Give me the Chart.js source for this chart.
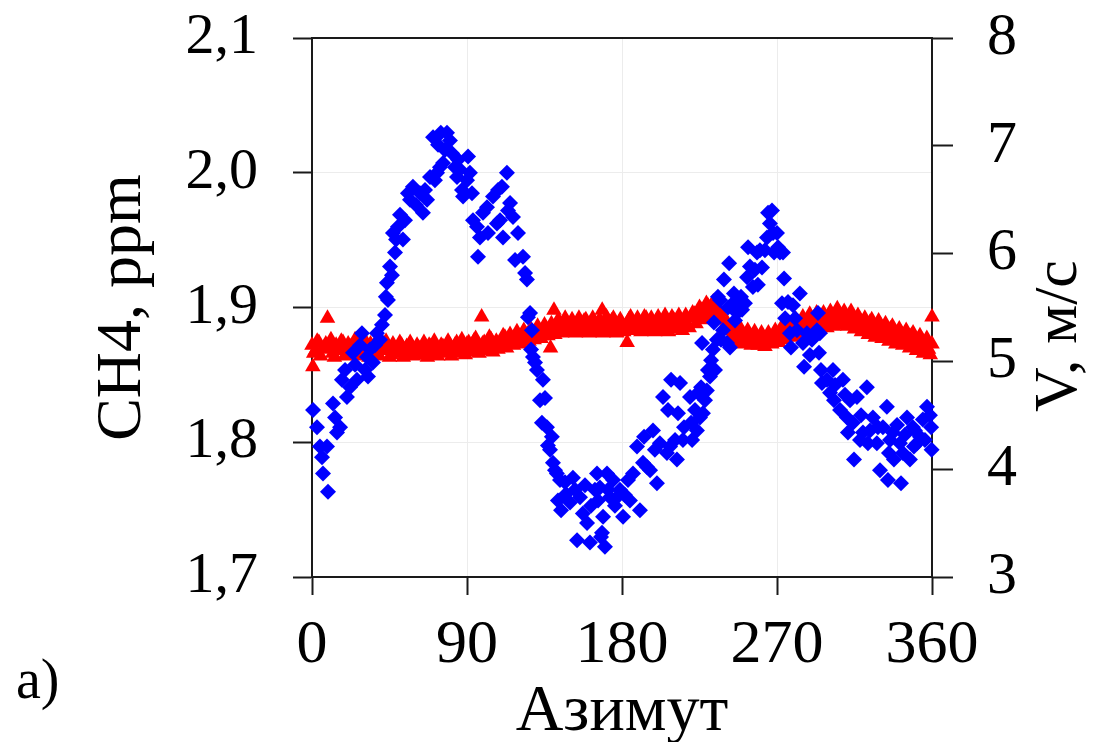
<!DOCTYPE html>
<html><head><meta charset="utf-8">
<script src="https://cdn.jsdelivr.net/npm/chart.js@4.4.1/dist/chart.umd.min.js"></script>
<style>html,body{margin:0;padding:0;background:#fff;}canvas{display:block;}</style>
</head><body>
<canvas id="c" width="1094" height="742"></canvas>
<script>
// ---- tick labels / axis settings ----
const xTicks = [0, 90, 180, 270, 360];
const leftTicks = [1.7, 1.8, 1.9, 2.0, 2.1];
const rightTicks = [3, 4, 5, 6, 7, 8];
const xTitle = 'Азимут';
const leftTitle = 'CH4, ppm';
const rightTitle = 'V, м/с';
const panelLabel = 'a)';

// ---- blue series: wind speed V (m/s) vs azimuth ----
const blueAz = [
0.6,2.9,4.6,5.8,6.4,8.7,9.3,12.2,13.4,14.5,
16.3,17.4,19.2,20.3,22.1,23.8,25.0,26.1,27.9,29.0,
30.8,31.9,32.5,33.7,35.4,36.6,37.7,39.5,40.6,42.4,
42.9,43.5,44.1,45.3,46.4,47.0,48.2,48.8,49.9,51.1,
52.8,54.0,55.7,56.9,58.6,60.4,62.7,64.4,65.6,66.8,
68.5,70.3,71.4,72.6,73.2,74.3,74.8,76.1,77.2,78.4,
80.1,81.3,83.0,84.2,84.8,85.9,87.1,87.7,90.0,90.6,
91.7,92.9,93.5,95.8,96.4,97.5,99.3,101.6,102.2,105.1,
107.4,108.0,109.2,110.3,110.9,113.2,113.8,115.0,116.7,117.9,
119.6,122.5,123.7,124.8,125.4,126.6,127.2,127.7,128.3,129.5,
130.6,132.4,133.5,134.1,135.3,136.4,137.0,138.2,139.3,139.9,
141.1,142.2,142.8,144.0,144.6,146.9,147.5,149.8,151.5,152.7,
153.9,155.6,157.3,158.5,159.7,161.4,162.0,164.3,165.5,166.1,
167.2,167.8,168.4,169.0,170.1,171.3,171.9,173.0,174.8,175.9,
177.1,178.8,180.6,181.7,183.5,184.6,186.4,188.7,190.4,192.2,
192.8,194.5,196.3,198.0,199.1,200.3,202.0,203.8,206.1,206.7,
207.9,208.5,210.8,211.9,212.5,213.7,215.4,216.0,219.5,220.1,
220.7,222.4,223.5,224.1,225.3,225.9,226.5,227.0,228.2,229.3,
229.9,231.1,231.7,232.8,233.4,234.0,235.1,235.7,236.9,237.5,
238.6,239.2,241.0,241.6,242.2,242.7,244.4,245.0,245.6,246.8,
248.5,249.1,249.7,251.4,252.6,253.2,254.3,256.0,257.2,258.4,
258.9,260.1,261.3,263.0,264.2,264.8,265.9,267.1,267.7,268.3,
270.0,270.6,271.7,272.9,273.5,274.1,274.7,276.4,277.5,278.1,
279.3,280.5,281.6,283.3,285.1,285.7,287.4,289.1,290.3,293.2,
293.8,294.4,294.9,295.5,296.1,299.0,300.8,302.5,303.1,303.7,
306.6,308.3,309.5,310.6,311.2,312.4,314.1,314.7,316.4,318.2,
318.8,319.9,322.2,322.8,324.0,325.7,328.0,328.6,329.8,331.5,
333.8,334.4,335.0,335.6,337.3,337.9,339.7,341.4,342.0,343.1,
344.3,345.5,347.2,348.9,349.5,350.1,351.3,353.0,354.7,355.9,
357.1,358.8,359.5,359.8
];
const blueV = [
4.55,4.39,4.21,4.11,3.96,4.21,3.79,4.61,4.48,4.34,
4.39,4.83,4.92,4.67,4.76,5.08,4.97,4.83,5.15,5.26,
4.92,5.04,4.86,5.11,4.99,5.15,5.26,5.20,5.34,5.43,
5.60,5.73,5.57,5.88,5.80,6.19,6.01,6.13,6.25,6.36,
6.13,6.31,6.56,6.50,6.62,6.45,6.56,6.38,6.59,6.50,
6.71,7.08,6.68,6.75,7.01,6.80,7.12,6.84,6.96,7.12,
7.05,6.93,6.80,6.71,6.87,6.78,6.59,6.53,6.68,6.90,
6.75,6.56,6.31,6.25,5.97,6.15,6.38,6.43,6.19,6.53,
6.28,6.59,6.31,6.62,6.15,6.75,6.40,6.47,6.34,5.94,
6.19,5.97,5.82,5.76,5.41,5.45,5.11,5.29,5.04,4.99,
4.92,4.64,4.43,4.83,4.66,4.39,4.22,4.18,4.30,4.06,
3.99,3.96,3.71,3.90,3.62,3.88,3.77,3.69,3.92,3.81,
3.34,3.74,3.59,3.85,3.50,3.32,3.66,3.81,3.96,3.71,
3.83,3.37,3.41,3.56,3.28,3.96,3.81,3.74,3.90,3.66,
3.74,3.81,3.56,3.76,3.90,3.71,3.96,4.21,3.62,4.06,
4.30,4.02,3.99,4.36,4.18,3.87,4.24,4.67,4.15,4.55,
4.21,4.83,4.27,4.09,4.52,4.80,4.27,4.39,4.67,4.43,
4.27,4.55,4.36,4.71,4.48,4.76,5.17,4.52,4.64,4.73,
4.92,4.86,5.01,5.11,5.36,4.92,5.20,5.60,5.57,5.20,
5.29,5.76,5.17,5.50,5.91,5.13,5.54,5.63,5.38,5.45,
5.50,5.60,5.48,5.54,5.78,6.06,5.88,5.69,5.85,6.01,
5.71,6.03,5.87,6.03,6.15,6.38,6.28,6.40,6.19,6.01,
6.19,6.06,6.01,5.54,6.01,5.77,5.40,5.55,5.26,5.13,
5.52,5.40,5.29,5.63,5.17,4.95,5.26,5.06,5.20,5.29,
5.45,5.08,5.26,4.92,4.80,4.83,4.71,4.92,4.64,4.78,
4.55,4.83,4.69,4.48,4.34,4.64,4.43,4.09,4.67,4.27,
4.50,4.34,4.76,4.24,4.36,4.48,4.24,4.39,3.99,4.39,
4.58,3.90,4.15,4.27,4.34,4.09,4.41,4.24,3.87,4.15,
4.32,4.48,4.09,4.39,4.21,4.36,4.24,4.30,4.46,4.27,
4.58,4.50,4.39,4.18
];

// ---- red series: CH4 (ppm) vs azimuth (even azimuths + outliers) ----
const redAz = [
0,0.5,2,4,6,8,9,10,12,14,
16,18,20,22,24,26,28,30,32,34,
36,38,40,42,44,46,48,50,52,54,
56,58,60,62,64,66,68,70,72,74,
76,78,80,82,84,86,88,90,92,94,
96,98,98.5,100,102,104,106,108,110,112,
114,116,118,120,122,124,126,128,130,132,
134,136,138,138.5,140,140.5,142,144,146,148,
150,152,154,156,158,160,162,164,166,168,
168.5,170,172,174,176,178,180,182,183,184,
186,188,190,192,194,196,198,200,202,204,
206,208,210,212,214,216,218,220,222,224,
226,228,230,232,234,236,238,240,242,244,
246,248,250,252,254,256,258,260,262,264,
266,268,270,272,274,276,278,280,282,284,
286,288,290,292,294,296,298,300,302,304,
306,308,310,312,314,316,318,320,322,324,
326,328,330,332,334,336,338,340,342,344,
346,348,350,352,354,356,358,360,360
];
const redCH4 = [
1.872,1.856,1.868,1.874,1.869,1.873,1.892,1.870,1.866,1.872,
1.868,1.874,1.869,1.871,1.866,1.873,1.868,1.871,1.867,1.873,
1.869,1.866,1.872,1.868,1.871,1.865,1.870,1.867,1.872,1.868,
1.865,1.871,1.867,1.870,1.865,1.869,1.872,1.866,1.870,1.867,
1.871,1.868,1.872,1.869,1.874,1.870,1.867,1.873,1.869,1.875,
1.871,1.868,1.893,1.874,1.870,1.876,1.872,1.869,1.875,1.878,
1.873,1.877,1.874,1.879,1.876,1.880,1.875,1.881,1.878,1.883,
1.879,1.884,1.881,1.870,1.885,1.898,1.882,1.887,1.884,1.889,
1.886,1.883,1.888,1.885,1.890,1.887,1.884,1.889,1.886,1.883,
1.898,1.888,1.885,1.890,1.886,1.883,1.888,1.885,1.874,1.891,
1.887,1.884,1.889,1.886,1.892,1.888,1.885,1.890,1.887,1.884,
1.889,1.886,1.891,1.888,1.885,1.890,1.887,1.892,1.895,1.893,
1.898,1.896,1.901,1.898,1.902,1.896,1.891,1.887,1.884,1.880,
1.882,1.878,1.881,1.877,1.880,1.876,1.879,1.875,1.878,1.874,
1.877,1.880,1.876,1.882,1.879,1.884,1.881,1.886,1.883,1.888,
1.885,1.890,1.887,1.892,1.889,1.886,1.891,1.888,1.893,1.890,
1.896,1.892,1.889,1.894,1.890,1.886,1.891,1.887,1.884,1.889,
1.885,1.882,1.887,1.883,1.880,1.884,1.880,1.877,1.881,1.878,
1.875,1.879,1.875,1.872,1.876,1.872,1.869,1.873,1.893
];
// ---- red series: odd azimuths ----
const redAzOdd = [
1,3,5,7,11,13,15,17,19,21,
23,25,27,29,31,33,35,37,39,41,
43,45,47,49,51,53,55,57,59,61,
63,65,67,69,71,73,75,77,79,81,
83,85,87,89,91,93,95,97,99,101,
103,105,107,109,111,113,115,117,119,121,
123,125,127,129,131,133,135,137,139,141,
143,145,147,149,151,153,155,157,159,161,
163,165,167,169,171,173,175,177,179,181,
185,187,189,191,193,195,197,199,201,203,
205,207,209,211,213,215,217,219,221,223,
225,227,229,231,233,235,237,239,241,243,
245,247,249,251,253,255,257,259,261,263,
265,267,269,271,273,275,277,279,281,283,
285,287,289,291,293,295,297,299,301,303,
305,307,309,311,313,315,317,319,321,323,
325,327,329,331,333,335,337,339,341,343,
345,347,349,351,353,355,357,359
];
const redCH4Odd = [
1.866,1.875,1.864,1.870,1.876,1.863,1.870,1.875,1.864,1.873,
1.868,1.876,1.864,1.872,1.875,1.863,1.870,1.874,1.864,1.870,
1.875,1.863,1.873,1.866,1.874,1.863,1.871,1.874,1.864,1.872,
1.866,1.874,1.863,1.871,1.875,1.864,1.872,1.866,1.875,1.864,
1.872,1.866,1.876,1.865,1.874,1.867,1.877,1.866,1.873,1.868,
1.878,1.867,1.875,1.871,1.879,1.870,1.880,1.872,1.882,1.873,
1.883,1.875,1.884,1.876,1.886,1.877,1.887,1.879,1.888,1.880,
1.891,1.881,1.892,1.882,1.891,1.881,1.892,1.882,1.891,1.881,
1.892,1.882,1.891,1.881,1.893,1.882,1.892,1.881,1.891,1.882,
1.893,1.883,1.892,1.882,1.893,1.883,1.892,1.882,1.893,1.883,
1.894,1.882,1.893,1.884,1.894,1.883,1.894,1.885,1.896,1.888,
1.900,1.891,1.903,1.894,1.904,1.892,1.897,1.883,1.889,1.876,
1.885,1.874,1.884,1.873,1.883,1.872,1.882,1.872,1.881,1.871,
1.881,1.873,1.883,1.874,1.886,1.876,1.888,1.878,1.891,1.880,
1.893,1.882,1.895,1.884,1.896,1.884,1.896,1.885,1.897,1.886,
1.899,1.887,1.897,1.886,1.897,1.884,1.894,1.882,1.892,1.880,
1.891,1.878,1.890,1.877,1.888,1.875,1.886,1.873,1.884,1.872,
1.883,1.870,1.881,1.868,1.879,1.866,1.877,1.865
];

const FONT = "'Liberation Serif', 'Times New Roman', serif";
const AXIS = '#1a1a1a';
const GRID = '#ececec';

function noPad(s) { s.paddingTop = 0; s.paddingBottom = 0; s.paddingLeft = 0; s.paddingRight = 0; }

const framePlugin = {
  id: 'frame',
  afterDraw(chart) {
    const {ctx, chartArea: a} = chart;
    ctx.save();
    ctx.strokeStyle = AXIS;
    ctx.lineWidth = 2;
    ctx.beginPath();
    ctx.moveTo(a.left, a.top);
    ctx.lineTo(a.right, a.top);
    ctx.stroke();
    // right axis title, reading bottom-to-top
    ctx.fillStyle = '#000';
    ctx.font = "62px " + FONT;
    ctx.textAlign = 'center';
    ctx.textBaseline = 'middle';
    ctx.translate(1060, 336);
    ctx.rotate(-Math.PI / 2);
    ctx.fillText(rightTitle, 0, 0);
    ctx.restore();
    ctx.save();
    ctx.fillStyle = '#000';
    ctx.font = "56px " + FONT;
    ctx.textAlign = 'left';
    ctx.textBaseline = 'alphabetic';
    ctx.fillText(panelLabel, 16, 698);
    ctx.restore();
  }
};

const redPoints = redAz.map((a, i) => ({x: a, y: redCH4[i]}))
  .concat(redAzOdd.map((a, i) => ({x: a, y: redCH4Odd[i]})));

new Chart(document.getElementById('c'), {
  type: 'scatter',
  data: {
    datasets: [
      {
        label: 'V',
        data: blueAz.map((a, i) => ({x: a, y: blueV[i]})),
        yAxisID: 'y2',
        pointStyle: 'rectRot',
        pointRadius: 8,
        pointBackgroundColor: '#0000ff',
        pointBorderColor: '#0000ff',
        pointBorderWidth: 0,
        showLine: false,
        clip: false
      },
      {
        label: 'CH4',
        data: redPoints,
        yAxisID: 'y',
        pointStyle: 'triangle',
        pointRadius: 9,
        pointBackgroundColor: '#ff0000',
        pointBorderColor: '#ff0000',
        pointBorderWidth: 0,
        showLine: false,
        clip: false
      }
    ]
  },
  options: {
    responsive: false,
    animation: false,
    devicePixelRatio: 1,
    events: [],
    layout: {padding: {top: 38, left: 0, right: 0, bottom: 0}},
    plugins: {legend: {display: false}, tooltip: {enabled: false}, title: {display: false}},
    scales: {
      x: {
        type: 'linear', position: 'bottom', min: 0, max: 360,
        afterBuildTicks: s => { s.ticks = xTicks.map(v => ({value: v})); },
        afterFit: s => { s.height = 165; noPad(s); },
        ticks: {
          color: '#000', padding: 20, maxRotation: 0,
          font: {family: FONT, size: 62, lineHeight: 1},
          callback: v => String(v)
        },
        grid: {color: GRID, lineWidth: 1, tickColor: AXIS, tickWidth: 2, tickLength: 18, drawTicks: true},
        border: {display: true, color: AXIS, width: 2},
        title: {
          display: true, text: xTitle, color: '#000',
          font: {family: FONT, size: 66, lineHeight: 0.8},
          padding: {top: 0, bottom: 3}
        }
      },
      y: {
        type: 'linear', position: 'left', min: 1.7, max: 2.1,
        afterBuildTicks: s => { s.ticks = leftTicks.map(v => ({value: v})); },
        afterFit: s => { s.width = 312; noPad(s); },
        ticks: {
          color: '#000', padding: 35,
          font: {family: FONT, size: 58, lineHeight: 1},
          callback: v => Number(v).toFixed(1).replace('.', ',')
        },
        grid: {color: GRID, lineWidth: 1, tickColor: AXIS, tickWidth: 2, tickLength: 19, drawTicks: true},
        border: {display: true, color: AXIS, width: 2},
        title: {
          display: true, text: leftTitle, color: '#000',
          font: {family: FONT, size: 64, lineHeight: 1},
          padding: {top: 91, bottom: 0}
        }
      },
      y2: {
        type: 'linear', position: 'right', min: 3, max: 8,
        afterBuildTicks: s => { s.ticks = rightTicks.map(v => ({value: v})); },
        afterFit: s => { s.width = 162; noPad(s); },
        ticks: {
          color: '#000', padding: 34,
          font: {family: FONT, size: 60, lineHeight: 1},
          callback: v => String(v)
        },
        grid: {drawOnChartArea: false, tickColor: AXIS, tickWidth: 2, tickLength: 21, drawTicks: true},
        border: {display: true, color: AXIS, width: 2},
        title: {display: false}
      }
    }
  },
  plugins: [framePlugin]
});
</script>
</body></html>
